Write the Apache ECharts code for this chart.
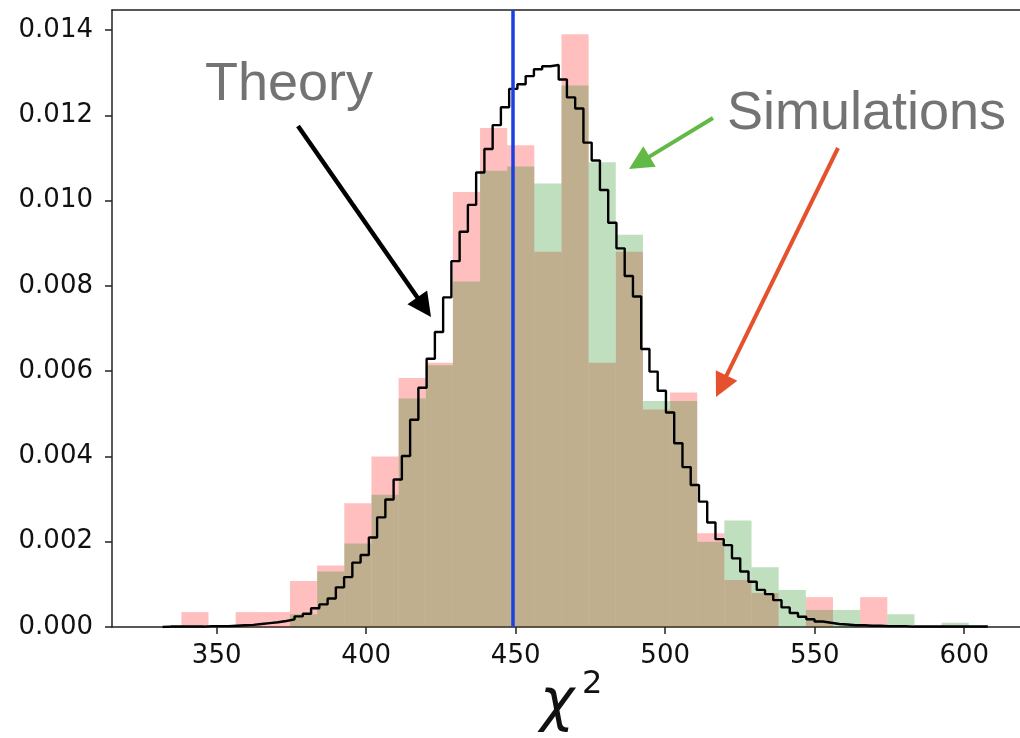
<!DOCTYPE html>
<html>
<head>
<meta charset="utf-8">
<script src="https://cdn.jsdelivr.net/npm/echarts@6/dist/echarts.min.js"></script>
<style>
  html, body { margin: 0; padding: 0; background: #fff; }
  #chart { width: 1020px; height: 738px; }
</style>
</head>
<body>
<div id="chart"></div>
<script>
// simulated chi2 histograms (density), both on the same bins
const simStart = 338.2;
const simWidth = 9.08;
const redSim = [0.00035, 0, 0.00035, 0.00035, 0.00108, 0.00144, 0.0029, 0.0040, 0.00584, 0.0062,
  0.0102, 0.0117, 0.0113, 0.0088, 0.0139, 0.0062, 0.0088, 0.0051, 0.0055, 0.0022,
  0.0011, 0.0008, 0, 0.0007, 0, 0.0007, 0, 0, 0];
const greenSim = [0, 0, 0, 0, 0.0003, 0.0013, 0.00196, 0.0031, 0.00536, 0.00614,
  0.0081, 0.0107, 0.0108, 0.0104, 0.0127, 0.0109, 0.0092, 0.0053, 0.0053, 0.0020,
  0.0025, 0.0014, 0.00087, 0.0004, 0.0004, 0, 0.0003, 0, 0.0001];

// theory histogram, 100 fine bins
const theoryStart = 331.9;
const theoryWidth = 2.76;
const theory = [
  0.00001, 0.00001, 0.00001, 0.00001, 0.00001, 0.00002, 0.00002, 0.00002, 0.00003, 0.00004,
  0.00005, 0.00007, 0.00009, 0.00011, 0.00014, 0.00018, 0.00025, 0.00031, 0.00044, 0.00053,
  0.00067, 0.00093, 0.00117, 0.00151, 0.00169, 0.00210, 0.00257, 0.00299, 0.00346, 0.00401,
  0.00486, 0.00561, 0.00629, 0.00692, 0.00773, 0.00858, 0.00927, 0.00990, 0.01066, 0.01121,
  0.01177, 0.01219, 0.01262, 0.01273, 0.01292, 0.01308, 0.01315, 0.01318, 0.01284, 0.01242,
  0.01216, 0.01136, 0.01094, 0.01025, 0.00948, 0.00888, 0.00823, 0.00775, 0.00652, 0.00599,
  0.00554, 0.00503, 0.00431, 0.00375, 0.00333, 0.00294, 0.00245, 0.00206, 0.00192, 0.00161,
  0.00130, 0.00106, 0.00087, 0.00077, 0.00063, 0.00046, 0.00033, 0.00024, 0.00018, 0.00013,
  0.00010, 0.00007, 0.00006, 0.00004, 0.00004, 0.00003, 0.00003, 0.00002, 0.00002, 0.00002,
  0.00001, 0.00001, 0.00001, 0.00001, 0.00001, 0.00001, 0.00001, 0.00001, 0.00001, 0.00001
];

const meanLine = 449;
const xTicks = [350, 400, 450, 500, 550, 600];
const yTicks = [0, 0.002, 0.004, 0.006, 0.008, 0.010, 0.012, 0.014];

// annotation arrows, in pixels
const arrows = [
  { from: [298, 126], to: [431, 317], color: '#000000', width: 4.5 },
  { from: [713, 118], to: [629, 169], color: '#63b946', width: 4 },
  { from: [838, 148], to: [716, 397], color: '#e5512d', width: 4 }
];

function bins(values) {
  return values.map((v, i) => [simStart + i * simWidth, simStart + (i + 1) * simWidth, v]);
}

function renderBin(color) {
  return function (params, api) {
    const top = api.coord([api.value(0), api.value(2)]);
    const bot = api.coord([api.value(1), 0]);
    return {
      type: 'rect',
      shape: { x: top[0], y: top[1], width: bot[0] - top[0], height: bot[1] - top[1] },
      style: { fill: color }
    };
  };
}

const theoryPts = [[theoryStart, 0]];
theory.forEach((v, i) => theoryPts.push([theoryStart + i * theoryWidth, v]));
const theoryEnd = theoryStart + theory.length * theoryWidth;
theoryPts.push([theoryEnd, theory[theory.length - 1]]);
theoryPts.push([theoryEnd, 0]);

function arrowGraphic(a) {
  const dx = a.to[0] - a.from[0], dy = a.to[1] - a.from[1];
  const len = Math.sqrt(dx * dx + dy * dy);
  const ux = dx / len, uy = dy / len;
  const L = 24, W = 12;
  const bx = a.to[0] - ux * L, by = a.to[1] - uy * L;
  return {
    type: 'group',
    children: [
      {
        type: 'line',
        shape: { x1: a.from[0], y1: a.from[1], x2: bx + ux * 3, y2: by + uy * 3 },
        style: { stroke: a.color, lineWidth: a.width }
      },
      {
        type: 'polygon',
        shape: { points: [a.to, [bx - uy * W, by + ux * W], [bx + uy * W, by - ux * W]] },
        style: { fill: a.color }
      }
    ]
  };
}

const spine = { color: '#222', width: 1.5 };

const chart = echarts.init(document.getElementById('chart'));
chart.setOption({
  animation: false,
  grid: {
    left: 112, width: 912, top: 10, bottom: 111,
    outerBoundsMode: 'none'
  },
  xAxis: [
    {
      type: 'value',
      min: 315, max: 620,
      splitLine: { show: false },
      axisLine: { onZero: false, lineStyle: spine },
      axisTick: { customValues: xTicks, length: 7, lineStyle: spine },
      axisLabel: {
        customValues: xTicks, margin: 16,
        fontFamily: 'DejaVu Sans', fontSize: 26, color: '#111'
      }
    },
    {
      // top spine only
      type: 'value', position: 'top',
      min: 315, max: 620,
      splitLine: { show: false },
      axisLine: { show: true, onZero: false, lineStyle: spine },
      axisTick: { show: false },
      axisLabel: { show: false }
    }
  ],
  yAxis: {
    type: 'value',
    min: 0, max: 0.01447,
    splitLine: { show: false },
    axisLine: { show: true, lineStyle: spine },
    axisTick: { show: true, customValues: yTicks, length: 7, lineStyle: spine },
    axisLabel: {
      customValues: yTicks, margin: 19,
      fontFamily: 'DejaVu Sans', fontSize: 26, color: '#111',
      formatter: v => v.toFixed(3)
    }
  },
  series: [
    {
      type: 'custom',
      renderItem: renderBin('rgba(255,0,0,0.25)'),
      encode: { x: [0, 1], y: 2 },
      data: bins(redSim),
      z: 1
    },
    {
      type: 'custom',
      renderItem: renderBin('rgba(0,128,0,0.25)'),
      encode: { x: [0, 1], y: 2 },
      data: bins(greenSim),
      z: 2
    },
    {
      type: 'line',
      step: 'end',
      data: theoryPts,
      showSymbol: false,
      lineStyle: { color: '#000', width: 2.4 },
      z: 3,
      markLine: {
        silent: true,
        symbol: 'none',
        label: { show: false },
        lineStyle: { color: '#1c3fe0', width: 3.5, type: 'solid' },
        data: [{ xAxis: meanLine }]
      }
    }
  ],
  graphic: [
    {
      type: 'text', left: 205, top: 58,
      style: { text: 'Theory', fontFamily: 'Liberation Sans', fontSize: 54, fill: '#737373' }
    },
    {
      type: 'text', left: 727, top: 87,
      style: { text: 'Simulations', fontFamily: 'Liberation Sans', fontSize: 54, fill: '#737373' }
    },
    // x axis title: chi squared
    {
      type: 'text', x: 540, y: 705,
      style: { text: 'χ', fontFamily: 'DejaVu Sans', fontStyle: 'italic', fontSize: 58, fill: '#111', verticalAlign: 'middle' }
    },
    {
      type: 'text', x: 582, y: 685,
      style: { text: '2', fontFamily: 'DejaVu Sans', fontSize: 32, fill: '#111', verticalAlign: 'middle' }
    }
  ].concat(arrows.map(arrowGraphic))
});
</script>
</body>
</html>
